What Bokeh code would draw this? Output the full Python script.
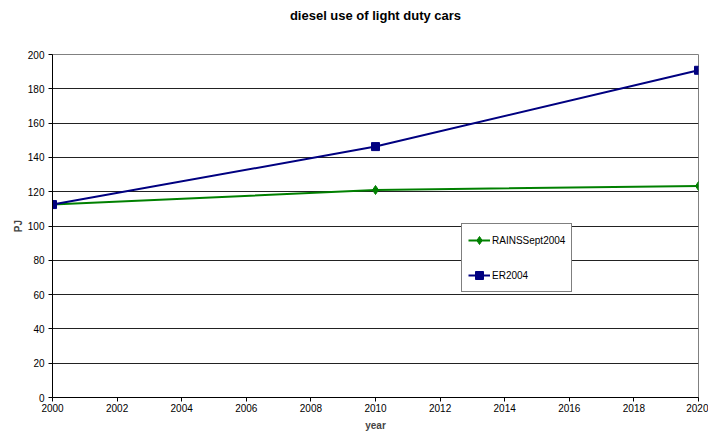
from bokeh.plotting import figure
from bokeh.models import Legend, LegendItem, FixedTicker, Range1d, Title
from bokeh.embed import file_html
from bokeh.resources import INLINE

years = [2000, 2010, 2020]
rains = [112.5, 121.0, 123.3]
er2004 = [112.5, 146.3, 190.8]
x_ticks = list(range(2000, 2021, 2))
y_ticks = list(range(0, 201, 20))
title_text = "diesel use of light duty cars"

FONT = "Liberation Sans"

p = figure(width=708, height=433, output_backend="svg", toolbar_location=None,
           title=None,
           x_range=Range1d(2000, 2020), y_range=Range1d(0, 200),
           min_border_left=52, min_border_right=10, min_border_top=54, min_border_bottom=35)

spacer = Title(text=" ", text_font=FONT, text_font_size="12px", standoff=16)
p.add_layout(spacer, "above")
title = Title(text=title_text, align="center", offset=-7, standoff=0,
              text_font=FONT, text_font_size="13px", text_font_style="bold",
              text_color="black")
p.add_layout(title, "above")

p.outline_line_color = "#808080"
p.xgrid.grid_line_color = None
p.ygrid.grid_line_color = "#222222"
p.ygrid.grid_line_width = 1

for ax in (p.xaxis[0], p.yaxis[0]):
    ax.axis_line_color = "black"
    ax.major_tick_line_color = "black"
    ax.major_tick_out = 4
    ax.major_tick_in = 0
    ax.minor_tick_line_color = None
    ax.major_label_text_font = FONT
    ax.major_label_text_font_size = "10px"
    ax.major_label_text_color = "black"
    ax.axis_label_text_font = FONT
    ax.axis_label_text_font_size = "10px"
    ax.axis_label_text_font_style = "bold"

p.xaxis.ticker = FixedTicker(ticks=x_ticks)
p.yaxis.ticker = FixedTicker(ticks=y_ticks)
p.xaxis.axis_label = "year"
p.yaxis.axis_label = "PJ"
p.xaxis.major_label_standoff = 2
p.xaxis.axis_label_standoff = 5
p.yaxis.major_label_standoff = 4
p.yaxis.axis_label_standoff = 1

l1 = p.line(years, rains, line_color="#008000", line_width=2)
m1 = p.scatter(years, rains, marker="diamond", size=9, fill_color="#008000", line_color="#008000")
l2 = p.line(years, er2004, line_color="#000080", line_width=2)
m2 = p.scatter(years, er2004, marker="square", size=8, fill_color="#000080", line_color="#000080")

legend = Legend(items=[LegendItem(label="RAINSSept2004", renderers=[l1, m1]),
                       LegendItem(label="ER2004", renderers=[l2, m2])],
                location=(409, 105))
legend.border_line_color = "black"
legend.border_line_width = 1
legend.background_fill_color = "white"
legend.background_fill_alpha = 1
legend.padding = 6
legend.spacing = 15
legend.margin = 0
legend.glyph_width = 22
legend.glyph_height = 20
legend.label_height = 20
legend.label_standoff = 2
legend.label_text_font = FONT
legend.label_text_font_size = "10px"
legend.label_text_color = "black"
p.add_layout(legend)

open("out.html", "w").write(file_html(p, INLINE))
